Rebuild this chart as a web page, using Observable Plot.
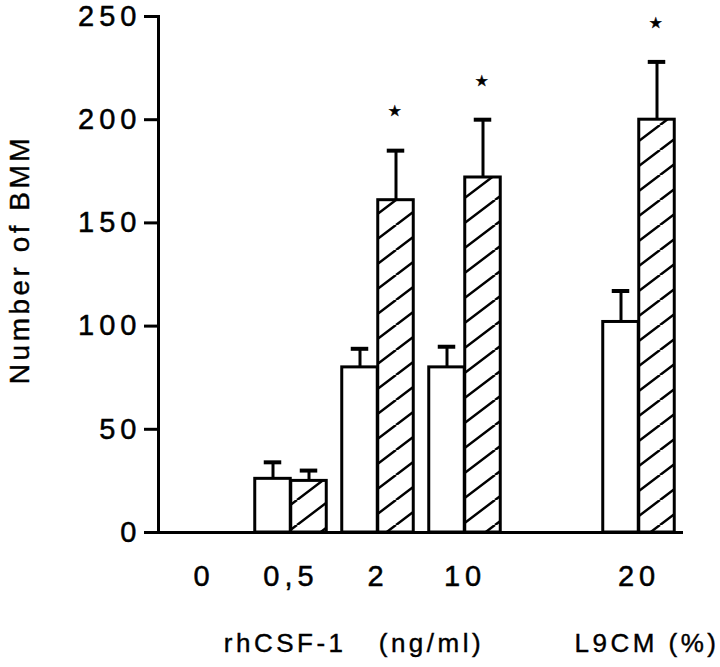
<!DOCTYPE html>
<html><head><meta charset="utf-8">
<script src="https://cdn.jsdelivr.net/npm/d3@7"></script>
<script src="https://cdn.jsdelivr.net/npm/@observablehq/plot@0.6"></script>
<style>
body{margin:0;background:#fff;}
svg text{font-family:"Liberation Sans",Arial,Helvetica,sans-serif;}
g[aria-label="y-axis tick label"] text, g[aria-label="x-axis tick label"] text{letter-spacing:5px;stroke:black;stroke-width:0.5px;}
g[aria-label="text"] text{letter-spacing:3.5px;stroke:black;stroke-width:0.4px;}
</style></head><body><div id="chart"></div>
<script>
// concentrations (x categories); "" is the empty slot before 20
const doses = ["0", "0,5", "2", "10", "20"];
const slots = ["0", "0,5", "2", "10", "", "20"];
// open bars (control)
const control = [0, 26, 80, 80, 102];
const controlErr = [null, 34, 89, 90, 117];
// hatched bars
const treated = [0, 25, 161, 172, 200];
const treatedErr = [null, 30, 185, 200, 228];
const significant = [false, false, true, true, true];
const yTicks = [0, 50, 100, 150, 200, 250];
const yTitle = "Number of BMM";
const xTitleLeft = "rhCSF-1\u00a0\u00a0\u00a0(ng/ml)";
const xTitleRight = "L9CM (%)";

const W = 720, H = 667, ML = 158, MR = 37, MT = 16, MB = 135;
const band = (W - ML - MR) / slots.length;
const barW = 36;
const near = band / 2 - barW;
const far = band / 2;

const ctrl = doses.map((d, i) => ({dose: d, value: control[i], err: controlErr[i]}));
const trt = doses.map((d, i) => ({dose: d, value: treated[i], err: treatedErr[i], sig: significant[i]}));

const hatchDefs = () => {
  const defs = d3.create("svg:defs");
  const p = defs.append("pattern").attr("id", "hatch").attr("patternUnits", "userSpaceOnUse")
    .attr("width", 33).attr("height", 25);
  p.append("rect").attr("width", 33).attr("height", 25).attr("fill", "white");
  p.append("path").attr("d", "M-33,25L0,0M0,25L33,0M33,25L66,0")
    .attr("stroke", "black").attr("stroke-width", 2.5);
  return defs.node();
};

const chart = Plot.plot({
  width: W, height: H,
  marginLeft: ML, marginRight: MR, marginTop: MT, marginBottom: MB,
  style: {fontSize: "28px", color: "black", background: "white"},
  x: {type: "band", domain: slots, padding: 0, axis: null},
  y: {domain: [0, 250], axis: null},
  marks: [
    hatchDefs,
    Plot.axisY({ticks: yTicks, tickSize: 14, tickPadding: 3, strokeWidth: 3, fontSize: 29, label: null}),
    Plot.axisX({ticks: doses, tickSize: 0, tickPadding: 33, fontSize: 29, label: null}),
    Plot.barY(ctrl.filter(d => d.value > 0), {x: "dose", y: "value", fill: "white", stroke: "black", strokeWidth: 3, insetLeft: near, insetRight: far}),
    Plot.barY(trt.filter(d => d.value > 0), {x: "dose", y: "value", fill: "url(#hatch)", stroke: "black", strokeWidth: 3, insetLeft: far, insetRight: near}),
    Plot.ruleX(ctrl.filter(d => d.err != null), {x: "dose", y1: "value", y2: "err", dx: -barW / 2, strokeWidth: 3}),
    Plot.ruleX(trt.filter(d => d.err != null), {x: "dose", y1: "value", y2: "err", dx: barW / 2, strokeWidth: 3}),
    Plot.tickY(ctrl.filter(d => d.err != null), {x: "dose", y: "err", strokeWidth: 4, insetLeft: far - barW / 2 - 9, insetRight: far + barW / 2 - 9}),
    Plot.tickY(trt.filter(d => d.err != null), {x: "dose", y: "err", strokeWidth: 4, insetLeft: far + barW / 2 - 9, insetRight: far - barW / 2 - 9}),
    Plot.text(trt.filter(d => d.sig), {x: "dose", y: "err", text: () => "\u2605", dx: barW / 2, dy: -39, fontSize: 15, fontFamily: "DejaVu Sans"}),
    Plot.ruleY([0], {strokeWidth: 3}),
    Plot.frame({anchor: "left", strokeWidth: 3}),
    Plot.text([yTitle], {frameAnchor: "left", rotate: -90, textAnchor: "middle", dx: -138, dy: -15, fontSize: 28}),
    Plot.text([{at: "2", label: xTitleLeft}], {x: "at", y: () => 0, text: "label", dx: -24, dy: 111, fontSize: 26}),
    Plot.text([{at: "20", label: xTitleRight}], {x: "at", y: () => 0, text: "label", dx: 8, dy: 111, fontSize: 26})
  ]
});
document.getElementById("chart").appendChild(chart);
</script></body></html>
